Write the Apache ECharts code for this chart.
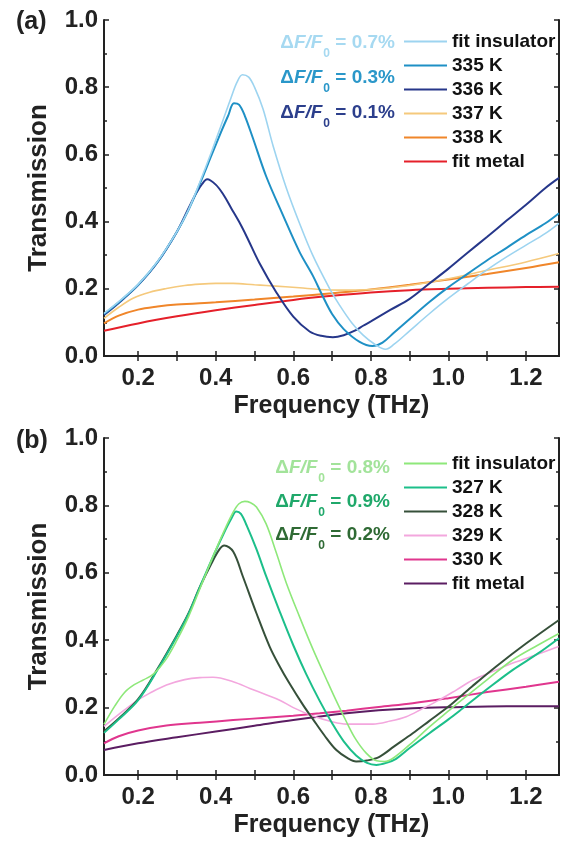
<!DOCTYPE html>
<html>
<head>
<meta charset="utf-8">
<script src="https://cdn.jsdelivr.net/npm/echarts@6.0.0/dist/echarts.min.js"></script>
<style>
  html, body { margin: 0; padding: 0; background: #fff; }
  #chart { width: 567px; height: 842px; }
</style>
</head>
<body>
<div id="chart"></div>
<script>
// ---- axis ticks / labels ----
const xLabelValues = [0.2, 0.4, 0.6, 0.8, 1.0, 1.2];
const xTickValues = [0.2, 0.3, 0.4, 0.5, 0.6, 0.7, 0.8, 0.9, 1.0, 1.1, 1.2];
const xMin = 0.112;
const xMax = 1.285;

// ---- panel (a) ----
const legendA = ["fit insulator", "335 K", "336 K", "337 K", "338 K", "fit metal"];
const annoA = ["0.7%", "0.3%", "0.1%"];
const fitInsA = [[0.112,0.127],[0.15,0.162],[0.2,0.213],[0.25,0.281],[0.3,0.37],[0.33,0.436],[0.36,0.52],[0.39,0.61],[0.415,0.69],[0.44,0.77],[0.455,0.815],[0.469,0.837],[0.485,0.83],[0.5,0.8],[0.522,0.735],[0.548,0.625],[0.582,0.5],[0.616,0.395],[0.65,0.3],[0.694,0.2],[0.72,0.15],[0.75,0.1],[0.78,0.062],[0.81,0.035],[0.838,0.02],[0.86,0.035],[0.9,0.075],[0.95,0.125],[1.0,0.172],[1.05,0.215],[1.1,0.257],[1.15,0.295],[1.2,0.33],[1.25,0.365],[1.285,0.395]];
const k335 = [[0.112,0.125],[0.15,0.16],[0.2,0.212],[0.25,0.28],[0.3,0.37],[0.33,0.435],[0.36,0.515],[0.39,0.6],[0.415,0.67],[0.432,0.715],[0.447,0.752],[0.46,0.748],[0.475,0.715],[0.496,0.648],[0.53,0.535],[0.573,0.42],[0.616,0.31],[0.65,0.24],[0.675,0.18],[0.7,0.125],[0.73,0.08],[0.771,0.042],[0.804,0.03],[0.83,0.04],[0.86,0.07],[0.9,0.11],[0.95,0.16],[1.0,0.205],[1.05,0.245],[1.1,0.285],[1.15,0.322],[1.2,0.36],[1.25,0.395],[1.285,0.425]];
const k336 = [[0.112,0.122],[0.15,0.158],[0.2,0.211],[0.25,0.279],[0.3,0.37],[0.33,0.44],[0.35,0.485],[0.365,0.512],[0.378,0.526],[0.4,0.51],[0.42,0.48],[0.44,0.44],[0.46,0.4],[0.48,0.355],[0.513,0.276],[0.556,0.19],[0.6,0.117],[0.642,0.073],[0.672,0.06],[0.702,0.056],[0.73,0.062],[0.76,0.076],[0.78,0.09],[0.8,0.103],[0.85,0.137],[0.9,0.17],[0.95,0.215],[1.0,0.26],[1.05,0.308],[1.1,0.355],[1.15,0.403],[1.2,0.45],[1.25,0.5],[1.285,0.53]];
const k337 = [[0.112,0.112],[0.15,0.145],[0.187,0.172],[0.23,0.19],[0.273,0.201],[0.32,0.21],[0.359,0.214],[0.4,0.216],[0.445,0.216],[0.5,0.212],[0.53,0.21],[0.58,0.206],[0.616,0.203],[0.668,0.198],[0.72,0.196],[0.8,0.198],[0.9,0.21],[1.0,0.23],[1.1,0.255],[1.2,0.28],[1.285,0.305]];
const k338 = [[0.112,0.097],[0.15,0.12],[0.2,0.138],[0.25,0.147],[0.3,0.153],[0.4,0.16],[0.5,0.168],[0.6,0.177],[0.7,0.187],[0.8,0.198],[0.9,0.212],[1.0,0.228],[1.1,0.244],[1.2,0.262],[1.285,0.279]];
const fitMetA = [[0.112,0.075],[0.2,0.097],[0.3,0.118],[0.4,0.136],[0.5,0.152],[0.6,0.167],[0.7,0.179],[0.8,0.189],[0.9,0.196],[1.0,0.2],[1.1,0.203],[1.2,0.205],[1.285,0.206]];

// ---- panel (b) ----
const legendB = ["fit insulator", "327 K", "328 K", "329 K", "330 K", "fit metal"];
const annoB = ["0.8%", "0.9%", "0.2%"];
const fitInsB = [[0.112,0.15],[0.14,0.205],[0.165,0.245],[0.19,0.268],[0.215,0.283],[0.24,0.3],[0.27,0.34],[0.3,0.4],[0.33,0.47],[0.36,0.555],[0.39,0.64],[0.42,0.72],[0.445,0.78],[0.46,0.805],[0.475,0.812],[0.49,0.808],[0.505,0.795],[0.53,0.745],[0.556,0.66],[0.582,0.57],[0.616,0.47],[0.65,0.375],[0.685,0.285],[0.71,0.222],[0.737,0.158],[0.76,0.108],[0.788,0.065],[0.815,0.042],[0.835,0.04],[0.86,0.052],[0.91,0.1],[0.951,0.143],[1.0,0.19],[1.037,0.225],[1.1,0.283],[1.166,0.342],[1.23,0.385],[1.285,0.42]];
const k327 = [[0.112,0.125],[0.15,0.165],[0.2,0.222],[0.25,0.312],[0.3,0.412],[0.33,0.478],[0.36,0.56],[0.39,0.64],[0.42,0.715],[0.44,0.76],[0.453,0.782],[0.465,0.775],[0.48,0.74],[0.505,0.67],[0.53,0.59],[0.565,0.485],[0.6,0.385],[0.633,0.3],[0.668,0.22],[0.702,0.15],[0.73,0.1],[0.762,0.058],[0.79,0.036],[0.814,0.03],[0.84,0.036],[0.865,0.048],[0.9,0.08],[0.951,0.124],[1.0,0.165],[1.037,0.198],[1.1,0.255],[1.166,0.312],[1.23,0.36],[1.285,0.406]];
const k328 = [[0.112,0.13],[0.15,0.168],[0.2,0.225],[0.25,0.315],[0.3,0.415],[0.33,0.48],[0.36,0.56],[0.39,0.63],[0.41,0.67],[0.422,0.681],[0.445,0.663],[0.47,0.589],[0.505,0.48],[0.539,0.381],[0.565,0.322],[0.59,0.272],[0.625,0.208],[0.651,0.165],[0.68,0.118],[0.711,0.074],[0.74,0.05],[0.762,0.04],[0.79,0.043],[0.822,0.054],[0.86,0.085],[0.908,0.124],[0.95,0.16],[1.0,0.203],[1.06,0.262],[1.123,0.322],[1.2,0.39],[1.285,0.46]];
const k329 = [[0.112,0.144],[0.15,0.18],[0.2,0.223],[0.23,0.243],[0.273,0.267],[0.32,0.283],[0.359,0.289],[0.393,0.29],[0.445,0.277],[0.488,0.257],[0.53,0.238],[0.565,0.222],[0.6,0.2],[0.651,0.175],[0.7,0.158],[0.737,0.151],[0.805,0.151],[0.85,0.16],[0.891,0.173],[0.93,0.195],[0.977,0.223],[1.02,0.252],[1.063,0.282],[1.12,0.31],[1.166,0.332],[1.23,0.358],[1.284,0.381]];
const k330 = [[0.112,0.094],[0.15,0.115],[0.2,0.132],[0.273,0.147],[0.359,0.155],[0.445,0.163],[0.53,0.17],[0.6,0.176],[0.668,0.183],[0.737,0.191],[0.82,0.202],[0.908,0.213],[1.0,0.228],[1.1,0.246],[1.2,0.262],[1.285,0.277]];
const fitMetB = [[0.112,0.074],[0.2,0.094],[0.3,0.112],[0.4,0.129],[0.5,0.146],[0.6,0.163],[0.737,0.183],[0.82,0.192],[0.908,0.198],[1.0,0.201],[1.15,0.204],[1.285,0.204]];

const colorsA = ["#9dd4f0", "#1e90c5", "#26378a", "#f5c97c", "#f0862a", "#e5202a"];
const colorsB = ["#8ee87a", "#1cbf8a", "#36503a", "#f3a7de", "#e0368e", "#5b1d62"];
const annoColorsA = ["#a6d9f1", "#2a97c9", "#2c3f8c"];
const annoColorsB = ["#a2e39a", "#1fa86a", "#2f6a34"];

const FONT = "Liberation Sans";
const AXIS_COLOR = "#222";

function xAxis(gridIndex, position) {
  const bottom = position === "bottom";
  return {
    type: "value",
    gridIndex,
    position,
    min: xMin,
    max: xMax,
    name: bottom ? "Frequency (THz)" : "",
    nameLocation: "middle",
    nameGap: 38,
    nameTextStyle: { fontFamily: FONT, fontSize: 25, fontWeight: "bold", color: "#222" },
    axisLine: { show: true, lineStyle: { color: AXIS_COLOR, width: 2 } },
    axisTick: { show: true, inside: true, length: 5, customValues: xTickValues,
      lineStyle: { color: AXIS_COLOR, width: 1.5 } },
    axisLabel: { show: bottom, customValues: xLabelValues, margin: 10,
      fontFamily: FONT, fontSize: 24, fontWeight: "bold", color: "#222",
      formatter: (v) => v.toFixed(1) },
    splitLine: { show: false },
  };
}

function yAxis(gridIndex, position) {
  const left = position === "left";
  return {
    type: "value",
    gridIndex,
    position,
    min: 0,
    max: 1,
    interval: 0.2,
    name: left ? "Transmission" : "",
    nameLocation: "middle",
    nameGap: 52,
    nameTextStyle: { fontFamily: FONT, fontSize: 26, fontWeight: "bold", color: "#222" },
    axisLine: { show: true, lineStyle: { color: AXIS_COLOR, width: 2 } },
    axisTick: { show: true, inside: true, length: 5, lineStyle: { color: AXIS_COLOR, width: 1.5 } },
    minorTick: { show: true, splitNumber: 2, length: 3, lineStyle: { color: AXIS_COLOR, width: 1.5 } },
    axisLabel: { show: left, margin: 6, fontFamily: FONT, fontSize: 24, fontWeight: "bold",
      color: "#222", formatter: (v) => v.toFixed(1) },
    splitLine: { show: false },
  };
}

function lines(prefix, names, datas, colors, widths, xi, yi) {
  return names.map((n, i) => ({
    name: prefix + n,
    type: "line",
    xAxisIndex: xi,
    yAxisIndex: yi,
    data: datas[i],
    symbol: "none",
    smooth: 0.35,
    lineStyle: { color: colors[i], width: widths[i] },
    itemStyle: { color: colors[i] },
    z: 10 - i,
  }));
}

function legend(prefix, names, top) {
  return {
    orient: "vertical",
    left: 403,
    top,
    padding: 0,
    itemGap: 5,
    itemWidth: 43,
    itemHeight: 10,
    itemStyle: { opacity: 0 },
    data: names.map((n) => prefix + n),
    formatter: (n) => n.slice(prefix.length),
    textStyle: { fontFamily: FONT, fontSize: 19, fontWeight: "bold", color: "#111" },
    selectedMode: false,
  };
}

function anno(x, y, value, color) {
  return {
    type: "text",
    x, y,
    style: {
      text: "{d|Δ}{i|F/F}{s|0}{d| = " + value + "}",
      align: "right",
      verticalAlign: "middle",
      fill: color,
      fontFamily: FONT,
      fontSize: 19,
      fontWeight: "bold",
      rich: {
        d: { fontFamily: FONT, fontSize: 19, fontWeight: "bold", fill: color },
        i: { fontFamily: FONT, fontSize: 19, fontWeight: "bold", fontStyle: "italic", fill: color },
        s: { fontFamily: FONT, fontSize: 12, fontWeight: "bold", fill: color, padding: [22, 0, 0, 1] },
      },
    },
  };
}

const chart = echarts.init(document.getElementById("chart"));
chart.setOption({
  animation: false,
  backgroundColor: "#fff",
  textStyle: { fontFamily: FONT },
  grid: [
    { left: 104, top: 20, width: 455, height: 336 },
    { left: 104, top: 438, width: 455, height: 337 },
  ],
  xAxis: [xAxis(0, "bottom"), xAxis(0, "top"), xAxis(1, "bottom"), xAxis(1, "top")],
  yAxis: [yAxis(0, "left"), yAxis(0, "right"), yAxis(1, "left"), yAxis(1, "right")],
  legend: [legend("a:", legendA, 32), legend("b:", legendB, 454)],
  series: [
    ...lines("a:", legendA, [fitInsA, k335, k336, k337, k338, fitMetA], colorsA, [1.6, 2, 2, 1.6, 2, 2], 0, 0),
    ...lines("b:", legendB, [fitInsB, k327, k328, k329, k330, fitMetB], colorsB, [1.6, 2, 2, 1.6, 2, 2], 2, 2),
  ],
  graphic: [
    { type: "text", x: 16, y: 22, style: { text: "(a)", fontFamily: FONT, fontSize: 25, fontWeight: "bold", fill: "#222", verticalAlign: "middle" } },
    { type: "text", x: 16, y: 441, style: { text: "(b)", fontFamily: FONT, fontSize: 25, fontWeight: "bold", fill: "#222", verticalAlign: "middle" } },
    ...annoA.map((v, i) => anno(395, 43 + i * 35, v, annoColorsA[i])),
    ...annoB.map((v, i) => anno(390, 468 + i * 33.5, v, annoColorsB[i])),
  ],
});
</script>
</body>
</html>
